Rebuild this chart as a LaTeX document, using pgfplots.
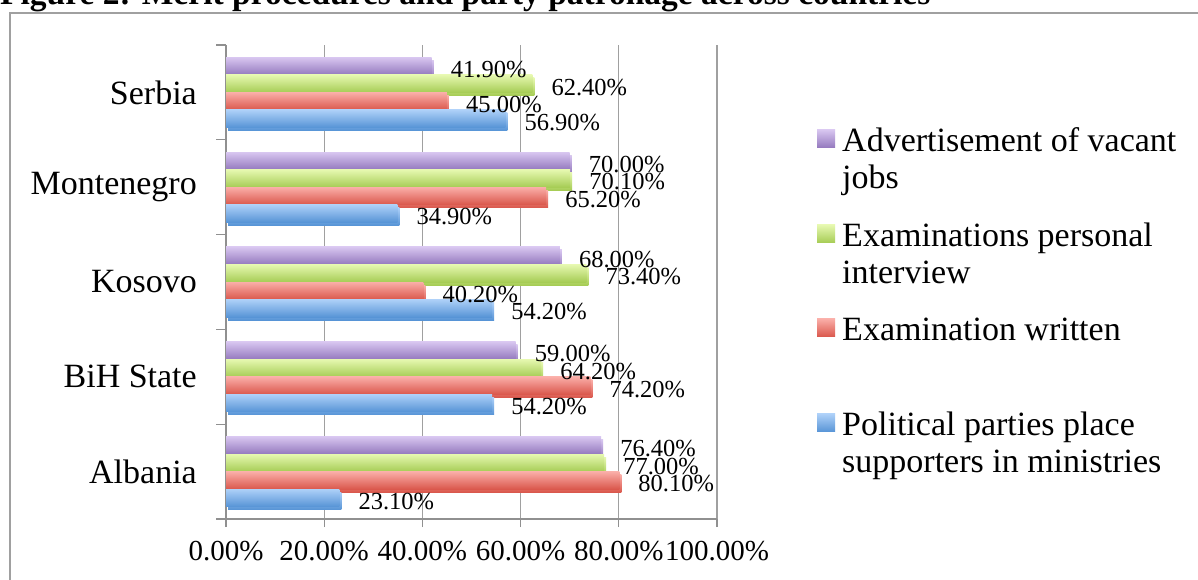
\documentclass[border=0pt]{standalone}
\usepackage{pgfplots}
\pgfplotsset{compat=1.18}
\usepackage{fontspec}
\setmainfont{Liberation Serif}
\definecolor{gridgray}{HTML}{A0A0A0}
\definecolor{axisgray}{HTML}{909090}
\definecolor{purpTop}{HTML}{D8C6F0}
\definecolor{purpBot}{HTML}{9479BE}
\definecolor{grnTop}{HTML}{E6F8B0}
\definecolor{grnBot}{HTML}{A6CC55}
\definecolor{redTop}{HTML}{FAAEA8}
\definecolor{redBot}{HTML}{DA574C}
\definecolor{bluTop}{HTML}{ADD0F8}
\definecolor{bluBot}{HTML}{5794D6}
\pgfplotsset{
  shad/.style={preaction={fill=black!13, transform canvas={shift={(2pt,-3pt)}}}},
  sBlu/.style={draw=none, shad, top color=bluTop, bottom color=bluBot, bar shift=-0.2775, forget plot},
  sRed/.style={draw=none, shad, top color=redTop, bottom color=redBot, bar shift=-0.0925, forget plot},
  sGrn/.style={draw=none, shad, top color=grnTop, bottom color=grnBot, bar shift=0.0925, forget plot},
  sPur/.style={draw=none, shad, top color=purpTop, bottom color=purpBot, bar shift=0.2775, forget plot},
}
\begin{document}
\begin{tikzpicture}[x=1pt,y=1pt]
\useasboundingbox (0,0) rectangle (1198,-579);
\clip (0,0) rectangle (1198,-579);
\fill[white] (0,0) rectangle (1198,-579);
\draw[gridgray, line width=1.5pt] (10,-590) -- (10,-13) -- (1210,-13);
\node[anchor=base west, inner sep=0pt, font=\bfseries\fontsize{33.5}{38}\selectfont] at (0,-4.5) {Figure 2: Merit procedures and party patronage across countries};
\begin{axis}[
  scale only axis, width=491pt, height=474pt,
  at={(226pt,-519pt)}, anchor=south west,
  xbar, bar width=0.185,
  xmin=0, xmax=100, ymin=-0.5, ymax=4.5,
  axis x line*=bottom, axis y line*=left,
  axis line style={draw=axisgray, line width=1.3pt},
  /pgf/number format/assume math mode=true,
  xtick={0,20,...,100},
  xticklabel={\pgfmathprintnumber[fixed,fixed zerofill,precision=2]{\tick}\%},
  xticklabel style={font=\fontsize{29}{34}\selectfont, inner sep=0pt, yshift=-14pt},
  xmajorgrids, major grid style={draw=gridgray, line width=1.3pt},
  tick align=outside, major tick length=8pt, minor tick length=10pt,
  major x tick style={draw=axisgray, line width=1.3pt},
  ytick={0,1,2,3,4},
  yticklabels={Albania, BiH State, Kosovo, Montenegro, Serbia},
  major y tick style={draw=none},
  minor ytick={-0.5,0.5,1.5,2.5,3.5,4.5},
  minor y tick style={draw=axisgray, line width=1.3pt},
  yticklabel style={font=\fontsize{34}{40}\selectfont, inner sep=0pt, xshift=-21pt},
  point meta=x,
  nodes near coords={\pgfmathprintnumber[fixed,fixed zerofill,precision=2]{\pgfplotspointmeta}\%},
  every node near coord/.append style={font=\fontsize{24.5}{28}\selectfont, anchor=west, inner sep=0pt, xshift=19pt, yshift=-3.5pt, text=black},
  legend image code/.code={\path[#1] (0pt,41pt) rectangle (18pt,59pt);},
  legend style={at={(1.2037,0.830)}, anchor=north west, draw=none, fill=none,
    font=\fontsize{34}{37}\selectfont, row sep=29pt, column sep=5pt, inner sep=0pt,
    cells={align=left, anchor=base west}},
]
% Advertisement of vacant jobs
\addplot[sPur] coordinates {(76.4,0)};
\addplot[sPur] coordinates {(59.0,1)};
\addplot[sPur] coordinates {(68.0,2)};
\addplot[sPur] coordinates {(70.0,3)};
\addplot[sPur] coordinates {(41.9,4)};
% Examinations personal interview
\addplot[sGrn] coordinates {(77.0,0)};
\addplot[sGrn] coordinates {(64.2,1)};
\addplot[sGrn] coordinates {(73.4,2)};
\addplot[sGrn] coordinates {(70.1,3)};
\addplot[sGrn] coordinates {(62.4,4)};
% Examination written
\addplot[sRed] coordinates {(80.1,0)};
\addplot[sRed] coordinates {(74.2,1)};
\addplot[sRed] coordinates {(40.2,2)};
\addplot[sRed] coordinates {(65.2,3)};
\addplot[sRed] coordinates {(45.0,4)};
% Political parties place supporters in ministries
\addplot[sBlu] coordinates {(23.1,0)};
\addplot[sBlu] coordinates {(54.2,1)};
\addplot[sBlu] coordinates {(54.2,2)};
\addplot[sBlu] coordinates {(34.9,3)};
\addplot[sBlu] coordinates {(56.9,4)};
\addlegendimage{draw=none, top color=purpTop, bottom color=purpBot}
\addlegendentry{Advertisement of vacant\\jobs}
\addlegendimage{draw=none, top color=grnTop, bottom color=grnBot}
\addlegendentry{Examinations personal\\interview}
\addlegendimage{draw=none, top color=redTop, bottom color=redBot}
\addlegendentry{Examination written\\\strut}
\addlegendimage{draw=none, top color=bluTop, bottom color=bluBot}
\addlegendentry{Political parties place\\supporters in ministries}
\end{axis}
\end{tikzpicture}
\end{document}
